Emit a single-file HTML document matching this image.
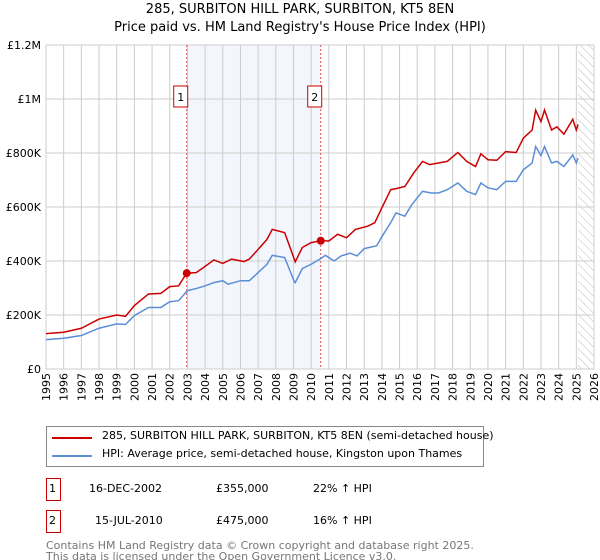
<!DOCTYPE html>
<html><head><meta charset="utf-8"><style>
body{margin:0;background:#fff;font-family:"DejaVu Sans","Liberation Sans",sans-serif;}
#c{position:relative;width:600px;height:560px;overflow:hidden}
.t{position:absolute;font-size:12px;color:#000;white-space:nowrap}
</style></head><body><div id="c">
<div class="t" style="left:0;width:600px;text-align:center;top:2px;font-size:13px">285, SURBITON HILL PARK, SURBITON, KT5 8EN</div>
<div class="t" style="left:0;width:600px;text-align:center;top:20px;font-size:13px">Price paid vs. HM Land Registry's House Price Index (HPI)</div>
<svg id="s" width="600" height="420" style="position:absolute;left:0;top:0"></svg>
<div style="position:absolute;left:46px;top:426px;width:438px;height:41px;border:1px solid #888;box-sizing:border-box">
<div style="position:absolute;left:5px;top:10px;width:40px;height:2px;background:#cc0000"></div>
<div class="t" style="left:55px;top:2px;font-size:11px">285, SURBITON HILL PARK, SURBITON, KT5 8EN (semi-detached house)</div>
<div style="position:absolute;left:5px;top:28px;width:40px;height:2px;background:#5b8ed6"></div>
<div class="t" style="left:55px;top:20px;font-size:11px">HPI: Average price, semi-detached house, Kingston upon Thames</div>
</div>
<div>
<div style="position:absolute;left:46px;top:478px;width:13px;height:21px;border:1px solid #cc0000"></div>
<div class="t" style="left:49px;top:482px;font-size:11px">1</div>
<div class="t" style="left:89px;top:482px;font-size:11px">16-DEC-2002</div>
<div class="t" style="left:216px;top:482px;font-size:11px">£355,000</div>
<div class="t" style="left:313px;top:482px;font-size:11px">22% ↑ HPI</div></div>
<div>
<div style="position:absolute;left:46px;top:510px;width:13px;height:21px;border:1px solid #cc0000"></div>
<div class="t" style="left:49px;top:514px;font-size:11px">2</div>
<div class="t" style="left:95px;top:514px;font-size:11px">15-JUL-2010</div>
<div class="t" style="left:216px;top:514px;font-size:11px">£475,000</div>
<div class="t" style="left:313px;top:514px;font-size:11px">16% ↑ HPI</div></div>
<div class="t" style="left:46px;top:540px;font-size:11px;color:#777;line-height:11px">Contains HM Land Registry data © Crown copyright and database right 2025.<br>This data is licensed under the Open Government Licence v3.0.</div>
</div>
<script>
const hpiYears=[1995,1996,1997,1998,1999,1999.5,2000,2000.8,2001.5,2002,2002.5,2003,2003.5,2004,2004.5,2005,2005.3,2006,2006.5,2007,2007.5,2007.8,2008.5,2009.05,2009.1,2009.5,2010,2010.5,2010.8,2011.3,2011.7,2012.2,2012.6,2013,2013.7,2014,2014.5,2014.8,2015.3,2015.7,2016.3,2016.8,2017.2,2017.7,2018.3,2018.8,2019.3,2019.6,2020,2020.5,2021,2021.6,2022,2022.5,2022.7,2023,2023.2,2023.6,2023.9,2024.3,2024.8,2025,2025.1];
const hpiValues=[109,114,124,151,167,165,198,228,228,249,253,290,298,308,320,327,314,327,327,357,388,421,413,323,320,372,388,407,421,400,419,429,419,446,456,490,542,578,566,609,658,652,652,664,689,658,646,689,671,664,695,695,738,763,824,790,824,763,769,750,793,763,781];
const redYears=[1995,1996,1997,1998,1999,1999.5,2000,2000.8,2001.5,2002,2002.5,2002.96,2003.5,2004,2004.5,2005,2005.5,2006.2,2006.5,2007,2007.5,2007.8,2008.5,2009.1,2009.5,2010,2010.54,2011,2011.5,2012,2012.5,2013.2,2013.6,2014,2014.5,2014.8,2015.3,2015.8,2016.3,2016.7,2017.2,2017.7,2018.3,2018.8,2019.3,2019.6,2020,2020.5,2021,2021.6,2022,2022.5,2022.7,2023,2023.2,2023.6,2023.9,2024.3,2024.8,2025,2025.1];
const redValues=[131,136,151,185,200,195,235,278,280,305,308,355,357,380,404,391,407,398,407,443,480,517,505,397,450,468,475,474,499,486,517,529,542,597,664,668,676,726,769,757,763,769,802,769,750,797,775,773,805,802,855,885,959,916,959,885,897,870,925,885,906];
const saleYears=[2002.96,2010.54];
const saleValues=[355,475];
const saleLabels=["1","2"];
const yTicks=[0,200,400,600,800,1000,1200];
const yTickLabels=["£0","£200K","£400K","£600K","£800K","£1M","£1.2M"];
const xTicks=[];for(let y=1995;y<=2026;y++)xTicks.push(y);
const NS="http://www.w3.org/2000/svg",s=document.getElementById('s');
const X0=46,X1=594,Y0=369,Y1=45;
const x=v=>X0+(v-1995)/(2026-1995)*(X1-X0);
const y=v=>Y0-v/1200*(Y0-Y1);
function el(t,a,p){const e=document.createElementNS(NS,t);for(const k in a)e.setAttribute(k,a[k]);(p||s).appendChild(e);return e;}
const defs=el('defs',{});const pat=el('pattern',{id:'h',width:6,height:6,patternUnits:'userSpaceOnUse',patternTransform:'rotate(-45)'},defs);
el('line',{x1:0,y1:0,x2:0,y2:6,stroke:'#bbb','stroke-width':1},pat);
const sh=el('rect',{x:x(saleYears[0]),y:Y1,width:x(saleYears[1])-x(saleYears[0]),height:Y0-Y1,fill:'#eef3fc',opacity:0.7});

const ht=el('rect',{x:x(2025.1),y:Y1,width:X1-x(2025.1),height:Y0-Y1,fill:'url(#h)'});

xTicks.forEach(v=>{el('line',{x1:x(v),x2:x(v),y1:Y1,y2:Y0,stroke:'#ccc','stroke-width':1});
const t=el('text',{x:0,y:0,'font-size':11,'text-anchor':'end',transform:`translate(${x(v)+4},${Y0+4}) rotate(-90)`,'font-family':'DejaVu Sans, sans-serif'});t.textContent=v;
});
yTicks.forEach((v,i)=>{el('line',{x1:X0,x2:X1,y1:y(v),y2:y(v),stroke:'#ccc','stroke-width':1});
const t=el('text',{x:X0-5,y:y(v)+4,'font-size':11,'text-anchor':'end','font-family':'DejaVu Sans, sans-serif'});t.textContent=yTickLabels[i];
});
saleYears.forEach((v,i)=>{el('line',{x1:x(v),x2:x(v),y1:Y1,y2:Y0,stroke:'#e05050','stroke-dasharray':'2,2','stroke-width':1});
const g=el('g',{});
el('rect',{x:x(v)-13,y:y(1000)-13,width:14,height:21,fill:'#fff',stroke:'#cc0000'},g);
const t=el('text',{x:x(v)-6,y:y(1000)+2,'font-size':11,'text-anchor':'middle'},g);t.textContent=saleLabels[i];});
function line(xs,vs,c,n){const p=el('polyline',{points:xs.map((a,i)=>x(a)+','+y(vs[i])).join(' '),fill:'none',stroke:c,'stroke-width':1.5});
}
line(hpiYears,hpiValues,'#5b8ed6','hpi-line');
line(redYears,redValues,'#cc0000','property-line');
saleYears.forEach((v,i)=>{const c=el('circle',{cx:x(v),cy:y(saleValues[i]),r:4,fill:'#cc0000'});
});
</script></body></html>
